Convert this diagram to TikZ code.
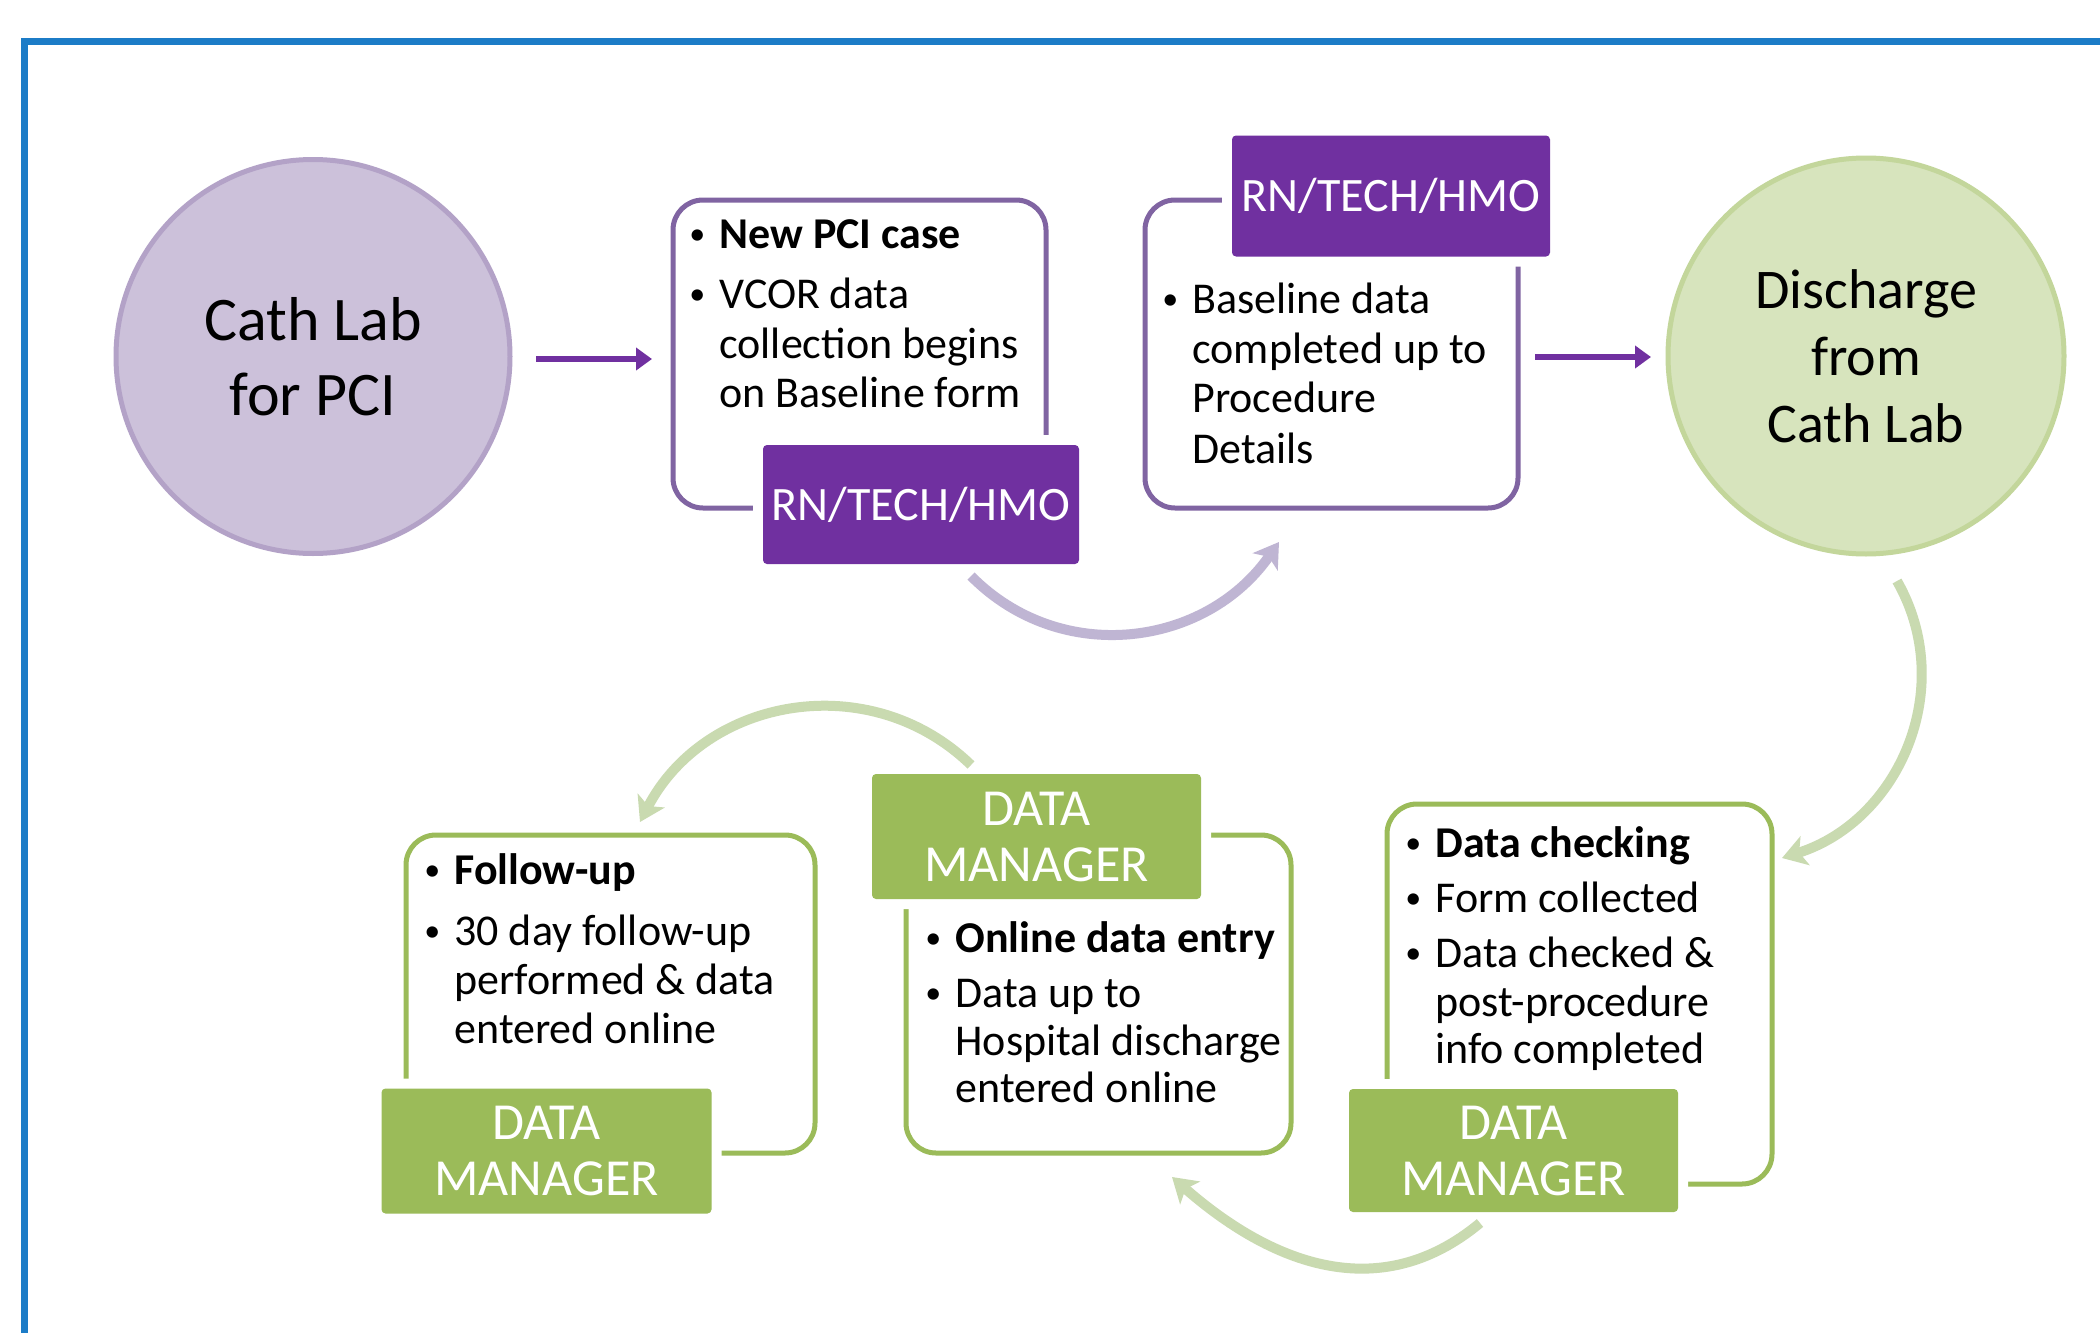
\documentclass[tikz,border=0pt]{standalone}
\usepackage{fontspec}
\setmainfont{Carlito}
\usetikzlibrary{arrows.meta}
\definecolor{deepP}{HTML}{7030A0}
\definecolor{boxP}{HTML}{8064A2}
\definecolor{circPfill}{HTML}{CCC1DA}
\definecolor{circPline}{HTML}{B3A2C7}
\definecolor{arrP}{HTML}{BFB5D3}
\definecolor{grn}{HTML}{9BBB59}
\definecolor{circGfill}{HTML}{D7E4BD}
\definecolor{circGline}{HTML}{C3D69B}
\definecolor{arrG}{HTML}{C9DAB0}
\definecolor{frameB}{HTML}{1C7CC7}
\newcommand{\bul}{\llap{\raisebox{2pt}{\fontsize{16}{16}\selectfont\mdseries •}\hspace{7pt}}}
\begin{document}
\begin{tikzpicture}[x=0.5pt,y=-0.5pt,
  circP/.style={circle, draw=circPline, fill=circPfill, line width=2.5pt, inner sep=0pt, minimum size=197pt, align=center},
  circG/.style={circle, draw=circGline, fill=circGfill, line width=2.5pt, inner sep=0pt, minimum size=198pt, align=center},
  boxPs/.style={rectangle, draw=boxP, line width=2.5pt, rounded corners=15pt, inner sep=0pt},
  boxGs/.style={rectangle, draw=grn, line width=2.5pt, rounded corners=15pt, inner sep=0pt},
  labP/.style={rectangle, fill=deepP, rounded corners=2pt, inner sep=0pt, text=white,
    preaction={draw=white, line width=10pt},
    font=\fontsize{24}{28}\selectfont, align=center},
  labG/.style={rectangle, fill=grn, rounded corners=2pt, inner sep=0pt, text=white,
    preaction={draw=white, line width=10pt},
    font=\fontsize{26}{28}\selectfont, align=center},
  bodytxt/.style={anchor=base west, inner sep=0pt, font=\fontsize{22}{25}\selectfont},
  headtxt/.style={bodytxt, font=\fontsize{22}{25}\selectfont\bfseries},
  straightarr/.style={draw=deepP, line width=3pt, -{Triangle[length=8pt,width=11pt]}},
  curvP/.style={draw=arrP, line width=5pt, -{Stealth[length=12pt,width=15pt,inset=3pt]}},
  curvG/.style={draw=arrG, line width=5pt, -{Stealth[length=12pt,width=15pt,inset=3pt]}}
]
\useasboundingbox (0,0) rectangle (2100,1333);
\fill[white] (0,0) rectangle (2100,1333);
% frame
\draw[frameB, line width=3.5pt] (24,1345) -- (24,41.5) -- (2110,41.5);

% circles
\node[circP, font=\fontsize{31}{37.5}\selectfont] (c1) at (313,356.5) {Cath Lab\\for PCI};
\node[circG, font=\fontsize{28}{33.5}\selectfont] (c2) at (1866,356) {Discharge\\from\\Cath Lab};

% boxes
\node[boxPs, minimum width=186.5pt, minimum height=154pt] (b1) at (859.5,354) {};
\node[boxPs, minimum width=186.5pt, minimum height=154pt] (b2) at (1331.5,354) {};
\node[boxGs, minimum width=192.5pt, minimum height=190pt] (b3) at (1579.5,994) {};
\node[boxGs, minimum width=192.5pt, minimum height=159pt] (b4) at (1098.5,994) {};
\node[boxGs, minimum width=204.5pt, minimum height=159pt] (b5) at (610.5,994) {};

% labels
\node[labP, minimum width=158pt, minimum height=59.5pt] (l1) at (921,504.5) {RN/TECH/HMO};
\node[labP, minimum width=159pt, minimum height=60.5pt] (l2) at (1391,196) {RN/TECH/HMO};
\node[labG, minimum width=164.5pt, minimum height=61.5pt] (l3) at (1513.5,1150.5) {DATA\\MANAGER};
\node[labG, minimum width=164.5pt, minimum height=62.5pt] (l4) at (1036.5,836.5) {DATA\\MANAGER};
\node[labG, minimum width=165pt, minimum height=62.5pt] (l5) at (546.5,1151) {DATA\\MANAGER};

% box 1 text
\node[headtxt] (t1a) at (719,248) {\bul New PCI case};
\node[bodytxt] (t1b) at (719,308) {\bul VCOR data};
\node[bodytxt] (t1c) at (719,358) {collection begins};
\node[bodytxt] (t1d) at (719,407) {on Baseline form};
% box 2 text
\node[bodytxt] (t2a) at (1192,313) {\bul Baseline data};
\node[bodytxt] (t2b) at (1192,363) {completed up to};
\node[bodytxt] (t2c) at (1192,412) {Procedure};
\node[bodytxt] (t2d) at (1192,463) {Details};
% box 3 text
\node[headtxt] (t3a) at (1435,857) {\bul Data checking};
\node[bodytxt] (t3b) at (1435,912) {\bul Form collected};
\node[bodytxt] (t3c) at (1435,967) {\bul Data checked \&};
\node[bodytxt] (t3d) at (1435,1016) {post-procedure};
\node[bodytxt] (t3e) at (1435,1063) {info completed};
% box 4 text
\node[headtxt] (t4a) at (955,952) {\bul Online data entry};
\node[bodytxt] (t4b) at (955,1007) {\bul Data up to};
\node[bodytxt] (t4c) at (955,1055) {Hospital discharge};
\node[bodytxt] (t4d) at (955,1102) {entered online};
% box 5 text
\node[headtxt] (t5a) at (454,884) {\bul Follow-up};
\node[bodytxt] (t5b) at (454,945) {\bul 30 day follow-up};
\node[bodytxt] (t5c) at (454,994) {performed \& data};
\node[bodytxt] (t5d) at (454,1043) {entered online};

% connector end points
\coordinate (a1s) at (536,359);
\coordinate (a1e) at (652,359);
\coordinate (a2s) at (1535,357);
\coordinate (a2e) at (1651,357);
\coordinate (cps) at (971,576);
\coordinate (cpe) at (1279,542);
\coordinate (g1s) at (1897,581);
\coordinate (g1e) at (1782,858);
\coordinate (g2s) at (1480,1223);
\coordinate (g2e) at (1172,1177);
\coordinate (g3s) at (971,765);
\coordinate (g3e) at (640,822);

\draw[straightarr] (a1s) -- (a1e);
\draw[straightarr] (a2s) -- (a2e);
\draw[curvP] (cps) .. controls (1061,667) and (1206,647) .. (cpe);
\draw[curvG] (g1s) .. controls (1958,688) and (1899,821) .. (g1e);
\draw[curvG] (g2s) .. controls (1379,1307) and (1270,1263) .. (g2e);
\draw[curvG] (g3s) .. controls (870,667) and (705,697) .. (g3e);
\end{tikzpicture}
\end{document}
